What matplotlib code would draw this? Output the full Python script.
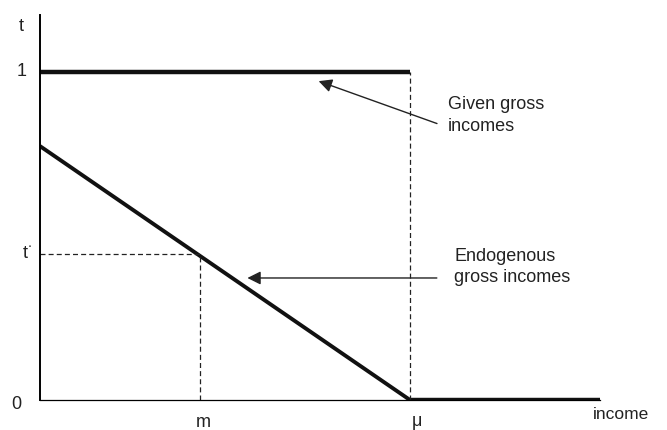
import matplotlib.pyplot as plt

plt.rcParams['font.family'] = ['Liberation Sans', 'DejaVu Sans']

# income axis: 0 .. mu, with mu = 1
mu = 1.0
m = 0.432
t_star = 0.445
t_intercept = 0.774
x_end = 1.514

given_x = [0, mu]
given_t = [1, 1]
endog_x = [0, mu]
endog_t = [t_intercept, 0]
tail_x = [mu, x_end]
tail_t = [0, 0]

fig = plt.figure(figsize=(6.67, 4.3), dpi=100)
ax = fig.add_axes([40 / 667, 30 / 430, 600 / 667, 385 / 430])
ax.set_xlim(0, 600 / 370)
ax.set_ylim(0, 385 / 328)

ax.plot(given_x, given_t, color='#111111', lw=3.2, solid_capstyle='butt')
ax.plot(endog_x, endog_t, color='#111111', lw=2.8, solid_capstyle='butt')
ax.plot(tail_x, tail_t, color='#111111', lw=3.2, solid_capstyle='butt')

dash = dict(color='#222222', lw=0.9, ls=(0, (4, 2.5)))
ax.plot([0, m], [t_star, t_star], **dash)
ax.plot([m, m], [0, t_star], **dash)
ax.plot([mu, mu], [0, 1], **dash)

for side in ['top', 'right']:
    ax.spines[side].set_visible(False)
ax.spines['left'].set_linewidth(1.4)
ax.spines['bottom'].set_linewidth(0.9)
ax.spines['bottom'].set_bounds(0, x_end)
ax.set_xticks([])
ax.set_yticks([])

tc = '#222222'
fs = 13
ax.text(-0.05, 1.14, 't', ha='center', va='center', fontsize=fs, color=tc)
ax.text(-0.05, 1.0, '1', ha='center', va='center', fontsize=fs, color=tc)
ax.text(-0.035, t_star, 't$^{\\cdot}$', ha='center', va='center', fontsize=fs, color=tc)
ax.text(-0.065, -0.015, '0', ha='center', va='center', fontsize=fs, color=tc)
ax.text(m + 0.01, -0.07, 'm', ha='center', va='center', fontsize=fs, color=tc)
ax.text(mu + 0.02, -0.065, 'μ', ha='center', va='center', fontsize=fs, color=tc)
ax.text(1.57, -0.045, 'income', ha='center', va='center', fontsize=12.5, color=tc)

arrow = dict(arrowstyle='-|>', color='#222222', lw=1.0, mutation_scale=20)
ax.annotate('', xy=(0.746, 0.975), xytext=(1.08, 0.84), arrowprops=arrow)
ax.text(1.102, 0.868, 'Given gross\nincomes', ha='left', va='center',
        fontsize=fs, color=tc, linespacing=1.35)
ax.annotate('', xy=(0.553, 0.372), xytext=(1.08, 0.372), arrowprops=arrow)
ax.text(1.12, 0.405, 'Endogenous\ngross incomes', ha='left', va='center',
        fontsize=fs, color=tc, linespacing=1.35)

fig.savefig('out.png', dpi=100)
